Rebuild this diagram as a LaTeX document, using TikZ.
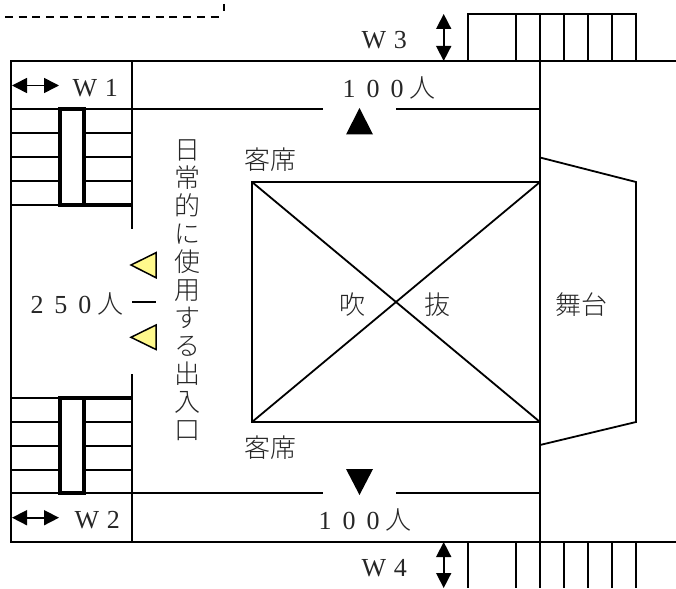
\documentclass[tikz,border=0pt]{standalone}
\usepackage{fontspec}
\setmainfont{Liberation Serif}
\newfontfamily\cjk{Noto Sans CJK JP Light}
\usetikzlibrary{calc, positioning, arrows.meta}
\newcommand{\fw}[1]{\makebox[24pt]{#1}}
\tikzset{
    wall/.style={draw=black, line width=1.8pt},
    tread/.style={draw=black, line width=1.5pt},
    landing/.style={draw=black, line width=3.2pt},
    width/.style={{Triangle[length=15pt,width=15pt]}-{Triangle[length=15pt,width=15pt]}, line width=1.6pt},
    label/.style={inner sep=0pt, font=\fontsize{26}{26}\selectfont, text=black!85},
    kanji/.style={label, font=\fontsize{26}{26}\selectfont\cjk},
    door/.style={draw=black, line width=1.5pt, fill=yellow!45},
    flow/.style={fill=black}
}
\begin{document}
\begin{tikzpicture}[x=1pt, y=-1pt]
    \useasboundingbox (0,0) rectangle (676,588);
    % hall corners
    \coordinate (HallNW) at (252,182);
    \coordinate (HallNE) at (540,182);
    \coordinate (HallSW) at (252,422);
    \coordinate (HallSE) at (540,422);

    % building outline
    \draw[wall] (676,61) -- (11,61) -- (11,542) -- (676,542);
    \draw[wall] (540,61) -- (540,542);
    \draw[wall] (132,61) -- (132,229);
    \draw[wall] (132,374) -- (132,542);
    \draw[wall] (11,109) -- (323,109);
    \draw[wall] (396,109) -- (540,109);
    \draw[wall] (11,493) -- (323,493);
    \draw[wall] (396,493) -- (540,493);

    % void
    \draw[wall] (HallNW) rectangle (HallSE);
    \draw[wall] (HallNW) -- (HallSE);
    \draw[wall] (HallNE) -- (HallSW);

    % stage
    \draw[wall] (540,157.5) -- (636,182) -- (636,422) -- (540,445);

    % stairs on the left
    \foreach \y in {133,157,181,205} {\draw[tread] (11,\y) -- (132,\y);}
    \foreach \y in {398,422,446,470} {\draw[tread] (11,\y) -- (132,\y);}
    \draw[landing, fill=white] (60,109) rectangle (84,205);
    \draw[landing, fill=white] (60,398) rectangle (84,493);
    \draw[landing] (84,205) -- (132,205);
    \draw[landing] (84,398) -- (132,398);

    % stairs top and bottom
    \draw[wall] (468,61) -- (468,14) -- (636,14) -- (636,61);
    \foreach \x in {516,540,564,588,612} {\draw[wall] (\x,14) -- (\x,61);}
    \foreach \x in {468,516,540,564,588,612,636} {\draw[wall] (\x,542) -- (\x,588);}

    % dashed line at the top
    \draw[line width=1.5pt, dash pattern=on 8pt off 5.7pt] (5,17) -- (224,17);
    \draw[line width=2pt] (224,4) -- (224,11.5);

    % width arrows
    \draw[width] (12,85.5) -- (59,85.5);
    \draw[width] (12,517.7) -- (59,517.7);
    \draw[width] (443.7,14) -- (443.7,61);
    \draw[width] (443.7,542) -- (443.7,588);

    % doors and flow marks
    \draw[door] (131,265) -- (156,252.7) -- (156,277.7) -- cycle;
    \draw[door] (131,337.3) -- (156,325) -- (156,349.5) -- cycle;
    \fill[flow] (359.5,108) -- (373,134.5) -- (346,134.5) -- cycle;
    \fill[flow] (359.5,495) -- (373,469) -- (346,469) -- cycle;
    \draw[wall] (132,301.7) -- (156,301.7);

    % labels
    \node[label] (W1) at (98,88) {W\hspace{2pt}\fw{1}};
    \node[label] (W2) at (100,520) {W\hspace{2pt}\fw{2}};
    \node[label] (W3) at (387,40) {W\hspace{2pt}\fw{3}};
    \node[label] (W4) at (387,568) {W\hspace{2pt}\fw{4}};
    \node[label] (NumTop) at (386,88) {\fw{1}\fw{0}\fw{0}{\cjk 人}};
    \node[label] (NumBot) at (362,520) {\fw{1}\fw{0}\fw{0}{\cjk 人}};
    \node[label] (NumSide) at (74,304) {\fw{2}\fw{5}\fw{0}{\cjk 人}};
    \node[kanji] (SeatTop) at (270.5,160) {客席};
    \node[kanji] (SeatBot) at (270.5,448) {客席};
    \node[kanji] (Fuki) at (352,305) {吹};
    \node[kanji] (Nuke) at (437,305) {抜};
    \node[kanji] (Stage) at (581,305) {舞台};
    \node[kanji, align=center, font=\fontsize{26}{28}\selectfont\cjk] (Entrance) at (187,290)
        {日\\常\\的\\に\\使\\用\\す\\る\\出\\入\\口};
\end{tikzpicture}
\end{document}
